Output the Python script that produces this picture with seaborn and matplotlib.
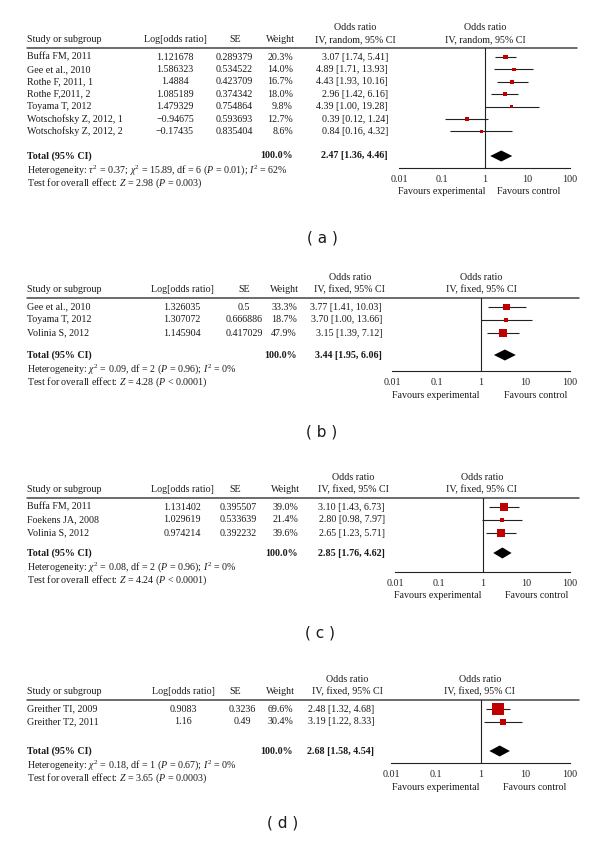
import matplotlib
matplotlib.use("Agg")

import matplotlib.pyplot as plt
import pandas as pd
import seaborn as sns


# panel (a)
A_STUDIES = ["Buffa FM, 2011", "Gee et al., 2010", "Rothe F, 2011, 1", "Rothe F,2011, 2",
             "Toyama T, 2012", "Wotschofsky Z, 2012, 1", "Wotschofsky Z, 2012, 2"]
A_LOG_OR = [1.121678, 1.586323, 1.4884, 1.085189, 1.479329, -0.94675, -0.17435]
A_SE = [0.289379, 0.534522, 0.423709, 0.374342, 0.754864, 0.593693, 0.835404]
A_WEIGHT = [20.3, 14.0, 16.7, 18.0, 9.8, 12.7, 8.6]
A_OR = [3.07, 4.89, 4.43, 2.96, 4.39, 0.39, 0.84]
A_LOW = [1.74, 1.71, 1.93, 1.42, 1.00, 0.12, 0.16]
A_HIGH = [5.41, 13.93, 10.16, 6.16, 19.28, 1.24, 4.32]
A_TOTAL = [2.47, 1.36, 4.46]
A_HET = r"Heterogeneity: $\tau^2$ = 0.37; $\chi^2$ = 15.89, df = 6 ($P$ = 0.01); $I^2$ = 62%"
A_TEST = r"Test for overall effect: $Z$ = 2.98 ($P$ = 0.003)"

# panel (b)
B_STUDIES = ["Gee et al., 2010", "Toyama T, 2012", "Volinia S, 2012"]
B_LOG_OR = [1.326035, 1.307072, 1.145904]
B_SE = [0.5, 0.666886, 0.417029]
B_WEIGHT = [33.3, 18.7, 47.9]
B_OR = [3.77, 3.70, 3.15]
B_LOW = [1.41, 1.00, 1.39]
B_HIGH = [10.03, 13.66, 7.12]
B_TOTAL = [3.44, 1.95, 6.06]
B_HET = r"Heterogeneity: $\chi^2$ = 0.09, df = 2 ($P$ = 0.96); $I^2$ = 0%"
B_TEST = r"Test for overall effect: $Z$ = 4.28 ($P$ < 0.0001)"

# panel (c)
C_STUDIES = ["Buffa FM, 2011", "Foekens JA, 2008", "Volinia S, 2012"]
C_LOG_OR = [1.131402, 1.029619, 0.974214]
C_SE = [0.395507, 0.533639, 0.392232]
C_WEIGHT = [39.0, 21.4, 39.6]
C_OR = [3.10, 2.80, 2.65]
C_LOW = [1.43, 0.98, 1.23]
C_HIGH = [6.73, 7.97, 5.71]
C_TOTAL = [2.85, 1.76, 4.62]
C_HET = r"Heterogeneity: $\chi^2$ = 0.08, df = 2 ($P$ = 0.96); $I^2$ = 0%"
C_TEST = r"Test for overall effect: $Z$ = 4.24 ($P$ < 0.0001)"

# panel (d)
D_STUDIES = ["Greither TI, 2009", "Greither T2, 2011"]
D_LOG_OR = [0.9083, 1.16]
D_SE = [0.3236, 0.49]
D_WEIGHT = [69.6, 30.4]
D_OR = [2.48, 3.19]
D_LOW = [1.32, 1.22]
D_HIGH = [4.68, 8.33]
D_TOTAL = [2.68, 1.58, 4.54]
D_HET = r"Heterogeneity: $\chi^2$ = 0.18, df = 1 ($P$ = 0.67); $I^2$ = 0%"
D_TEST = r"Test for overall effect: $Z$ = 3.65 ($P$ = 0.0003)"

TICKS = [0.01, 0.1, 1, 10, 100]
TICK_LABELS = ["0.01", "0.1", "1", "10", "100"]

W, H = 600, 843
INK = "#1a1a1a"
RED = "#c00000"
FS = 7.2

sns.set_style("white")
plt.rcParams["font.family"] = ["Liberation Serif", "DejaVu Serif"]
plt.rcParams["mathtext.fontset"] = "custom"
plt.rcParams["mathtext.rm"] = "Liberation Serif"
plt.rcParams["mathtext.it"] = "Liberation Serif:italic"
plt.rcParams["mathtext.bf"] = "Liberation Serif:bold"


def fmt_num(v):
    return str(v).replace("-", "\u2212")


def draw_panel(fig, canvas, data, lay):
    studies, log_or, se, weight, odds, low, high, total, het, test, method = data
    hl = lay["hl"]
    rows = [lay["row0"] + i * lay["step"] for i in range(len(studies))]
    ty = lay["total"]

    # header
    for x in (lay["or_head"], lay["one"]):
        canvas.text(x, hl - 21, "Odds ratio", ha="center", va="center", fontsize=FS, color=INK)
        canvas.text(x, hl - 8, method, ha="center", va="center", fontsize=FS, color=INK)
    canvas.text(27, hl - 8, "Study or subgroup", ha="left", va="center", fontsize=FS, color=INK)
    canvas.text(lay["log_x"], hl - 8, "Log[odds ratio]", ha="center", va="center", fontsize=FS, color=INK)
    canvas.text(lay["se_head"], hl - 8, "SE", ha="center", va="center", fontsize=FS, color=INK)
    canvas.text(lay["w_x"] + 2, hl - 8, "Weight", ha="right", va="center", fontsize=FS, color=INK)
    canvas.plot([27, lay["line_end"]], [hl, hl], color="#444444", lw=1.1)

    # study rows
    for i, y in enumerate(rows):
        canvas.text(27, y, studies[i], ha="left", va="center", fontsize=FS, color=INK)
        canvas.text(lay["log_x"], y, fmt_num(log_or[i]), ha="center", va="center", fontsize=FS, color=INK)
        canvas.text(lay["se_x"], y, fmt_num(se[i]), ha="center", va="center", fontsize=FS, color=INK)
        canvas.text(lay["w_x"], y, f"{weight[i]:.1f}%", ha="right", va="center", fontsize=FS, color=INK)
        canvas.text(lay["ci_x"], y, f"{odds[i]:.2f} [{low[i]:.2f}, {high[i]:.2f}]",
                    ha="right", va="center", fontsize=FS, color=INK)

    # totals and footnotes
    canvas.text(27, ty, "Total (95% CI)", ha="left", va="center", fontsize=FS, color=INK, fontweight="bold")
    canvas.text(lay["w_x"], ty, "100.0%", ha="right", va="center", fontsize=FS, color=INK, fontweight="bold")
    canvas.text(lay["ci_x"], ty, f"{total[0]:.2f} [{total[1]:.2f}, {total[2]:.2f}]",
                ha="right", va="center", fontsize=FS, color=INK, fontweight="bold")
    canvas.text(27, ty + 14, het, ha="left", va="center", fontsize=FS, color=INK)
    canvas.text(27, ty + 27, test, ha="left", va="center", fontsize=FS, color=INK)

    # forest axes, vertical scale in figure pixels
    x0, x1, ay = lay["x0"], 570, lay["axis"]
    ax = fig.add_axes([x0 / W, 1 - ay / H, (x1 - x0) / W, (ay - hl) / H])
    ax.set_facecolor("none")
    ax.set_xscale("log")
    ax.set_xlim(0.01, 100)
    ax.set_ylim(ay, hl)

    df = pd.DataFrame({"odds": odds, "low": low, "high": high, "weight": weight, "y": rows})
    ax.hlines(df["y"], df["low"], df["high"], color="#222222", lw=0.8)
    # square side grows with study weight
    sizes = {w: ((1.6 + 0.145 * w) * 0.72) ** 2 for w in weight}
    sns.scatterplot(data=df, x="odds", y="y", size="weight", sizes=sizes, marker="s",
                    color=RED, linewidth=0, legend=False, ax=ax, zorder=3)
    ax.fill([total[1], total[0], total[2], total[0]], [ty, ty - 5.5, ty, ty + 5.5],
            color="black", lw=0)
    ax.axvline(1, color="#222222", lw=0.8)

    ax.set_xlabel("")
    ax.set_ylabel("")
    ax.set_yticks([])
    ax.set_xticks(TICKS)
    ax.set_xticklabels(TICK_LABELS)
    ax.minorticks_off()
    ax.tick_params(axis="x", direction="in", length=3, width=0.8, pad=5,
                   labelsize=FS, colors="#222222")
    for side in ("top", "left", "right"):
        ax.spines[side].set_visible(False)
    ax.spines["bottom"].set_color("#222222")
    ax.spines["bottom"].set_linewidth(0.8)

    one = lay["one"]
    canvas.text(one - lay["fav"][0], ay + 24, "Favours experimental", ha="right", va="center",
                fontsize=FS, color=INK)
    canvas.text(one + lay["fav"][1], ay + 24, "Favours control", ha="left", va="center",
                fontsize=FS, color=INK)

    tx, tyag = lay["tag"]
    canvas.text(tx, tyag, lay["label"], ha="center", va="center", fontsize=11,
                family="DejaVu Sans", color=INK)


def main():
    fig = plt.figure(figsize=(W / 100, H / 100), dpi=100)
    canvas = fig.add_axes([0, 0, 1, 1])
    canvas.set_xlim(0, W)
    canvas.set_ylim(H, 0)
    canvas.axis("off")

    panels = [
        ((A_STUDIES, A_LOG_OR, A_SE, A_WEIGHT, A_OR, A_LOW, A_HIGH, A_TOTAL, A_HET, A_TEST,
          "IV, random, 95% CI"),
         dict(hl=48, row0=57, step=12.4, total=156, axis=168, x0=399, one=485,
              log_x=175, se_head=235, se_x=234, w_x=293, or_head=355, ci_x=388,
              fav=(0, 12), line_end=577, tag=(322, 238), label="( a )")),
        ((B_STUDIES, B_LOG_OR, B_SE, B_WEIGHT, B_OR, B_LOW, B_HIGH, B_TOTAL, B_HET, B_TEST,
          "IV, fixed, 95% CI"),
         dict(hl=298, row0=307, step=13, total=355, axis=371, x0=392, one=481,
              log_x=182, se_head=244, se_x=244, w_x=297, or_head=350, ci_x=382,
              fav=(1, 23), line_end=579, tag=(322, 432), label="( b )")),
        ((C_STUDIES, C_LOG_OR, C_SE, C_WEIGHT, C_OR, C_LOW, C_HIGH, C_TOTAL, C_HET, C_TEST,
          "IV, fixed, 95% CI"),
         dict(hl=498, row0=507, step=13, total=553, axis=572, x0=395, one=482,
              log_x=182, se_head=235, se_x=238, w_x=298, or_head=353, ci_x=385,
              fav=(1, 23), line_end=579, tag=(320, 633), label="( c )")),
        ((D_STUDIES, D_LOG_OR, D_SE, D_WEIGHT, D_OR, D_LOW, D_HIGH, D_TOTAL, D_HET, D_TEST,
          "IV, fixed, 95% CI"),
         dict(hl=700, row0=709, step=13, total=751, axis=763, x0=391, one=480,
              log_x=183, se_head=235, se_x=242, w_x=293, or_head=347, ci_x=374,
              fav=(1, 23), line_end=579, tag=(283, 823), label="( d )")),
    ]

    for data, lay in panels:
        draw_panel(fig, canvas, data, lay)

    fig.savefig("out.png", dpi=100)
    plt.close(fig)


if __name__ == "__main__":
    main()
